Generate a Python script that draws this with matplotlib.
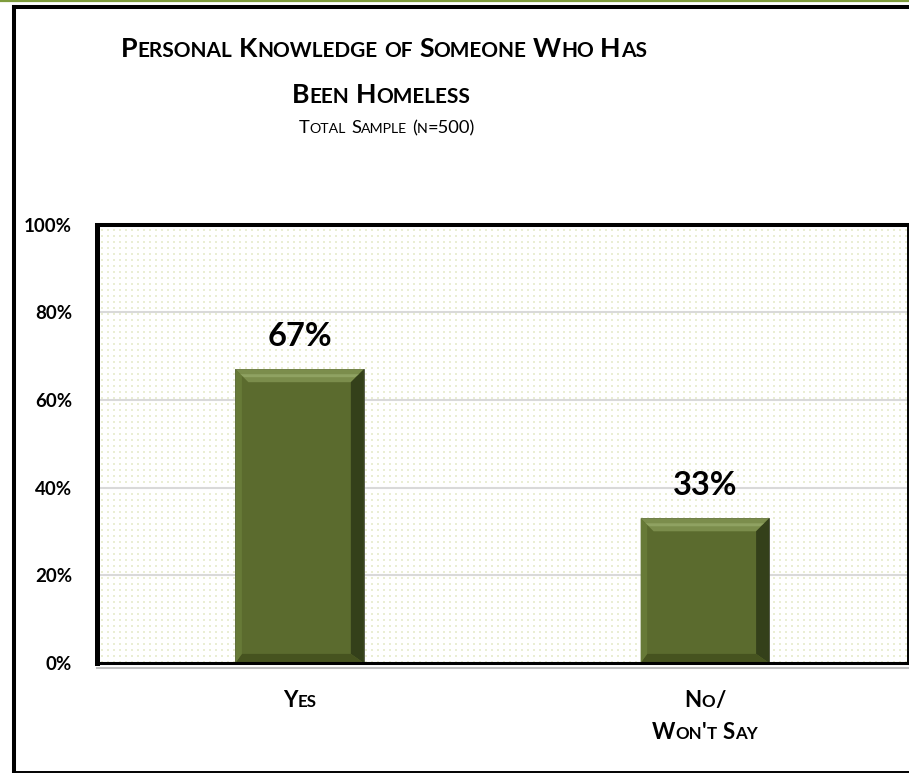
import numpy as np
import matplotlib
matplotlib.use('Agg')
import matplotlib.pyplot as plt
from matplotlib.patches import Polygon
from matplotlib.lines import Line2D

# 数据
categories = ["Yes", "No/\nWon't Say"]
values = [67, 33]
yticks = [0, 20, 40, 60, 80, 100]
ytick_labels = ["0%", "20%", "40%", "60%", "80%", "100%"]
title_lines = ["Personal Knowledge of Someone Who Has", "Been Homeless"]
subtitle = "Total Sample (n=500)"

W, H = 909, 773
FONT = "Lato"
plt.rcParams['font.family'] = [FONT, 'DejaVu Sans']

fig = plt.figure(figsize=(W / 100, H / 100), dpi=100)
fig.patch.set_facecolor('white')


def px(x, y):
    # 像素坐标（从左上角）转为 figure 坐标
    return x / W, 1 - y / H


# 绘图区位置（像素）
ax_l, ax_r, ax_t, ax_b = 97, 907.5, 224.5, 663
ax = fig.add_axes([ax_l / W, 1 - ax_b / H, (ax_r - ax_l) / W, (ax_b - ax_t) / H])
ax.set_facecolor('none')

# 背景点阵纹理
pw, ph = int(ax_r - ax_l), int(ax_b - ax_t)
tex = np.ones((ph, pw, 4))
tex[..., 3] = 0
dot = np.array([234, 238, 212, 255]) / 255
for yy in range(4, ph, 6):
    for xx in range(3, pw, 6):
        tex[yy:yy + 2, xx:xx + 2] = dot
fig.figimage(tex, xo=int(ax_l) + 1, yo=int(H - ax_b), origin='upper', zorder=-1)

x = np.arange(len(categories))
bars = ax.bar(x, values, width=0.317, color='#5B6B2E', zorder=3,
              edgecolor='#4A4F40', linewidth=0.6)

ax.set_xlim(-0.5, 1.5)
ax.set_ylim(0, 100)
ax.set_yticks(yticks)
ax.set_yticklabels(ytick_labels, fontsize=13.5, fontweight='bold')
ax.set_xticks([])
ax.tick_params(axis='y', length=0, pad=18)
ax.grid(axis='y', color='#D9D9D9', linewidth=1.5, zorder=1)
ax.set_axisbelow(True)

for side, lw in [('left', 3.6), ('top', 2.9), ('right', 1.4), ('bottom', 2.2)]:
    ax.spines[side].set_linewidth(lw)
    ax.spines[side].set_color('black')
    ax.spines[side].set_zorder(5)

# 底部灰色阴影线
fig.add_artist(Line2D([ax_l / W, 1], [1 - 667.5 / H] * 2, color='#BFBFBF', lw=1.5))

# 柱子的斜面效果
fig.canvas.draw()
renderer = fig.canvas.get_renderer()
bev = 13
for b in bars:
    x0, y0 = ax.transData.transform((b.get_x(), 0))
    x1, y1 = ax.transData.transform((b.get_x() + b.get_width(), b.get_height()))
    polys = [
        ([(x0, y1), (x1, y1), (x1 - bev, y1 - bev), (x0 + bev, y1 - bev)], '#7B8D4C'),
        ([(x0 + 4, y1 - 5), (x1 - 4, y1 - 5), (x1 - bev + 4, y1 - bev + 5), (x0 + bev - 4, y1 - bev + 5)], '#8FA262'),
        ([(x1, y1), (x1, y0), (x1 - bev, y0 + bev * 0.7), (x1 - bev, y1 - bev)], '#34401A'),
        ([(x0, y0), (x1, y0), (x1 - bev, y0 + bev * 0.7), (x0 + bev * 0.5, y0 + bev * 0.7)], '#46531F'),
        ([(x0, y1), (x0 + bev * 0.5, y1 - bev * 0.5), (x0 + bev * 0.5, y0 + bev * 0.7), (x0, y0)], '#677A37'),
    ]
    for pts, c in polys:
        ax.add_patch(Polygon(pts, closed=True, facecolor=c, edgecolor='none',
                             transform=None, zorder=4))
    ax.annotate(f"{b.get_height():.0f}%", (b.get_x() + b.get_width() / 2, b.get_height()),
                xytext=(0, 16.5), textcoords='offset points', ha='center', va='baseline',
                fontsize=23.5, fontweight='bold', zorder=6)


def smallcaps(s, cx, base_y, size, weight='bold', ratio=0.76):
    # 模拟小型大写字母：小写字母用较小字号的大写
    pieces = []
    for ch in s:
        if ch == ' ':
            pieces.append([' ', size])
            continue
        t, fs = (ch.upper(), size * ratio) if ch.islower() else (ch, size)
        if pieces and pieces[-1][0] != ' ' and pieces[-1][1] == fs:
            pieces[-1][0] += t
        else:
            pieces.append([t, fs])
    texts, widths = [], []
    for t, fs in pieces:
        if t == ' ':
            a = fig.text(0, 0, "xx", fontsize=fs, fontweight=weight)
            c = fig.text(0, 0, "x x", fontsize=fs, fontweight=weight)
            widths.append(c.get_window_extent(renderer).width - a.get_window_extent(renderer).width)
            a.remove()
            c.remove()
            texts.append(None)
            continue
        tx = fig.text(0, 0, t, fontsize=fs, fontweight=weight, ha='left', va='baseline')
        texts.append(tx)
        widths.append(tx.get_window_extent(renderer).width)
    xpos = cx - sum(widths) / 2
    for tx, w in zip(texts, widths):
        if tx is not None:
            tx.set_position(px(xpos, base_y))
        xpos += w


# 标题
smallcaps(title_lines[0], 384, 57, 19.3, ratio=0.78)
smallcaps(title_lines[1], 381, 103, 19.3, ratio=0.78)
smallcaps(subtitle, 387, 133, 13.2, weight='normal', ratio=0.77)

# x 轴类别标签
for xi, cat in zip(x, categories):
    cx = ax.transData.transform((xi, 0))[0]
    for k, line in enumerate(cat.split('\n')):
        smallcaps(line, cx, 707 + 32 * k, 16)

# 外框和顶部绿线
fig.add_artist(Line2D([0, 1], [1 - 1 / H] * 2, color='#7E9C3C', lw=1.6))
fig.add_artist(Line2D([14 / W, 1], [1 - 7 / H] * 2, color='black', lw=2.9))
fig.add_artist(Line2D([14 / W, 14 / W], [1 - 7 / H, 1 - 771.5 / H], color='black', lw=2.9))
fig.add_artist(Line2D([14 / W, 1], [1 - 771.5 / H] * 2, color='black', lw=1.4))

fig.savefig('out.png', dpi=100)
